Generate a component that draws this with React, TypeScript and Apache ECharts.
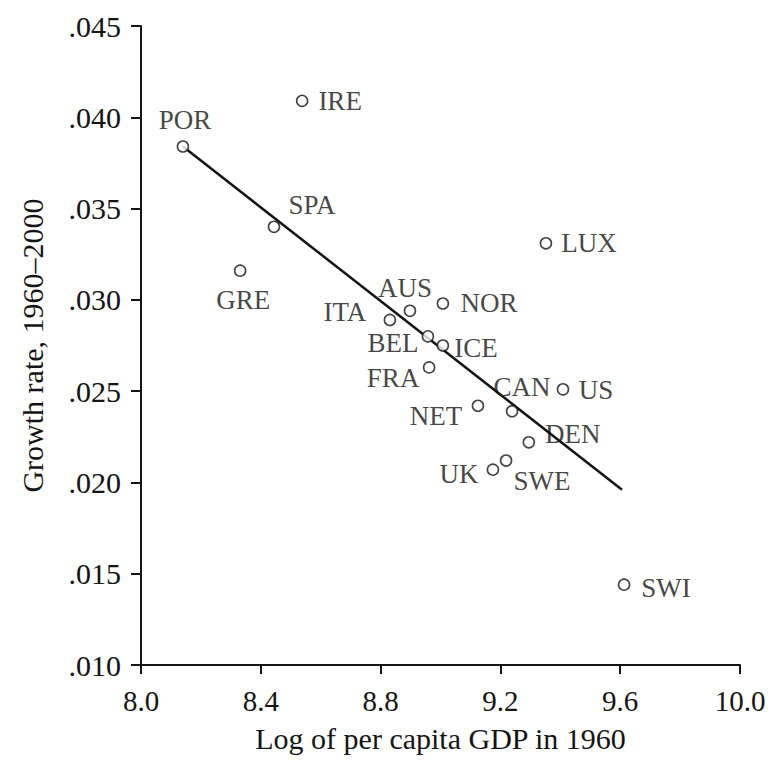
import React, { useEffect, useRef } from "react";
import * as echarts from "echarts";

const countries = ["POR", "IRE", "SPA", "GRE", "LUX", "AUS", "NOR", "ITA", "BEL", "ICE", "FRA", "CAN", "US", "NET", "DEN", "UK", "SWE", "SWI"];
const logGdp1960 = [8.14, 8.538, 8.444, 8.331, 9.352, 8.898, 9.008, 8.831, 8.958, 9.008, 8.962, 9.239, 9.409, 9.125, 9.295, 9.175, 9.219, 9.613];
const growthRate = [0.0384, 0.0409, 0.034, 0.0316, 0.0331, 0.0294, 0.0298, 0.0289, 0.028, 0.0275, 0.0263, 0.0239, 0.0251, 0.0242, 0.0222, 0.0207, 0.0212, 0.0144];
const fitLineX = [8.14, 9.606];
const fitLineY = [0.0384, 0.0196];
const xTicks = [8.0, 8.4, 8.8, 9.2, 9.6, 10.0];
const yTicks = [0.01, 0.015, 0.02, 0.025, 0.03, 0.035, 0.04, 0.045];

// label offsets (label centre relative to marker centre), pixels
const labelOffset: Record<string, [number, number]> = {
  POR: [2, -26], IRE: [38, 0], SPA: [38, -22], GRE: [3, 29], LUX: [43, 0],
  AUS: [-5, -23], NOR: [46, -1], ITA: [-45, -8], BEL: [-35, 7], ICE: [33, 2],
  FRA: [-36, 11], CAN: [10, -24], US: [33, 1], NET: [-42, 10], DEN: [44, -8],
  UK: [-34, 4], SWE: [36, 20], SWI: [42, 3],
};

const FONT = "'Liberation Serif', 'DejaVu Serif', serif";
const INK = "#141414";

export default function App() {
  const ref = useRef<HTMLDivElement>(null);
  useEffect(() => {
    document.body.style.margin = "0";
    const chart = echarts.init(ref.current!, null, { renderer: "svg" });
    chart.setOption({
      animation: false,
      backgroundColor: "#ffffff",
      textStyle: { fontFamily: FONT, color: INK },
      grid: { left: 141, right: 33, top: 26, bottom: 95, containLabel: false },
      xAxis: {
        type: "value",
        min: xTicks[0],
        max: xTicks[xTicks.length - 1],
        interval: 0.4,
        name: "Log of per capita GDP in 1960",
        nameLocation: "middle",
        nameGap: 58,
        nameTextStyle: { fontFamily: FONT, fontSize: 30, color: INK },
        axisLine: { show: true, onZero: false, lineStyle: { color: INK, width: 2 } },
        axisTick: { show: true, inside: false, length: 9, lineStyle: { color: INK, width: 2 } },
        axisLabel: {
          fontFamily: FONT, fontSize: 29, color: INK, margin: 21,
          formatter: (v: number) => v.toFixed(1),
        },
        splitLine: { show: false },
      },
      yAxis: {
        type: "value",
        min: yTicks[0],
        max: yTicks[yTicks.length - 1],
        interval: 0.005,
        name: "Growth rate, 1960–2000",
        nameLocation: "middle",
        nameGap: 94,
        nameTextStyle: { fontFamily: FONT, fontSize: 30, color: INK },
        axisLine: { show: true, onZero: false, lineStyle: { color: INK, width: 2 } },
        axisTick: { show: true, inside: false, length: 10, lineStyle: { color: INK, width: 2 } },
        axisLabel: {
          fontFamily: FONT, fontSize: 30, color: INK, margin: 20,
          formatter: (v: number) => v.toFixed(3).replace(/^0/, ""),
        },
        splitLine: { show: false },
      },
      series: [
        {
          type: "line",
          data: fitLineX.map((x, i) => [x, fitLineY[i]]),
          symbol: "none",
          lineStyle: { color: INK, width: 2.5 },
          z: 2,
        },
        {
          type: "scatter",
          data: countries.map((c, i) => ({
            name: c,
            value: [logGdp1960[i], growthRate[i]],
            label: { offset: labelOffset[c] },
          })),
          symbol: "circle",
          symbolSize: 11,
          itemStyle: { color: "#ffffff", borderColor: INK, borderWidth: 1.6 },
          label: {
            show: true,
            position: "inside",
            align: "center",
            verticalAlign: "middle",
            fontFamily: FONT,
            fontSize: 27,
            color: INK,
            formatter: (p: any) => p.name,
          },
          z: 3,
        },
      ],
    });
    return () => chart.dispose();
  }, []);
  return <div ref={ref} style={{ position: "absolute", left: 0, top: 0, width: 773, height: 760 }} />;
}
